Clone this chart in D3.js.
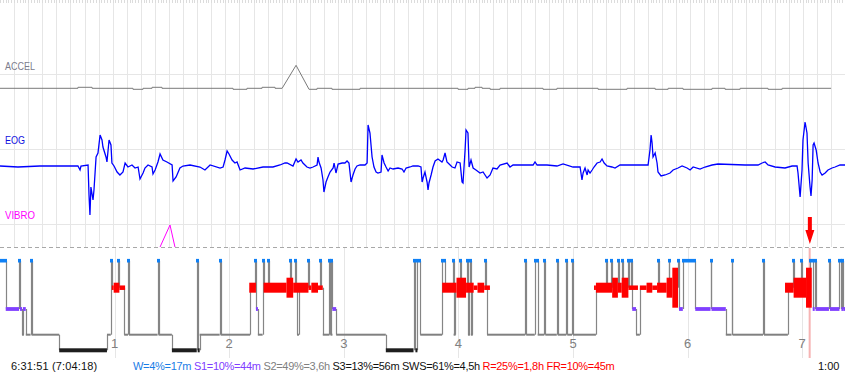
<!DOCTYPE html>
<html>
<head>
<meta charset="utf-8">
<script src="https://cdn.jsdelivr.net/npm/d3@7"></script>
<style>
  html, body { margin: 0; padding: 0; background: #fff; }
  svg { display: block; font-family: "Liberation Sans", Arial, sans-serif; }
</style>
</head>
<body>
<svg id="chart" width="845" height="372"></svg>
<script>
// ---- data (time in minutes from start of recording) ----
const totalMinutes = 442.4;
const hourTicks = [1, 2, 3, 4, 5, 6, 7];
const stageNames = ['W', 'R', 'S1', 'S2', 'S3'];
const traceLabels = ['ACCEL', 'EOG', 'VIBRO'];

// accelerometer: [minute, value, ramp?]  (steps unless ramp)
const accelData = [
  [0, 0], [40.8, 1], [48.2, 0], [69.6, -1], [74.9, 0], [79.6, 1], [84.8, 0],
  [122.0, -1], [129.3, 0], [137.2, 1], [144.0, 0], [147.7, 0],
  [155.0, 23, true], [161.8, -1, true], [166.0, 0], [173.8, -1], [188.5, 0],
  [239.8, -1], [245.0, 0], [248.7, 1], [252.4, 0], [256.6, -1], [261.8, 0],
  [284.3, -1], [291.6, 0], [313.1, -1], [328.3, 0], [343.0, -1], [349.8, 0],
  [357.6, -1], [372.8, 0], [379.6, -1], [387.5, 0], [402.1, -1], [409.5, 0],
  [435.1, 0]
];

// EOG amplitude: [minute, amplitude]
const eogData = [
  [0, -1], [9.4, -2], [20.9, -1], [40.8, -1], [41.9, -5], [42.4, -1], [46.1, 0],
  [46.6, -30], [47.1, -50], [47.6, -22], [48.7, -35], [49.2, -25], [50.3, 8],
  [51.3, 12], [52.4, 30], [53.4, 25], [53.9, 18], [55.5, 8], [56.0, 3], [57.1, 25],
  [58.1, 20], [58.6, 2], [59.7, -1], [61.3, -7], [62.8, -10], [64.4, -7], [65.5, 2],
  [67.0, -2], [69.1, 0], [70.7, -3], [72.3, -2], [73.3, -14], [74.9, -8], [75.9, -3],
  [77.5, 0], [79.6, -2], [80.1, -9], [81.2, -5], [82.7, 3], [83.8, 11], [85.3, 5],
  [87.4, 3], [90.1, 0], [90.6, -16], [92.2, -12], [94.2, -3], [95.8, -1], [99.5, 0],
  [104.7, -2], [107.3, -5], [110.0, 0], [115.2, -3], [116.8, -2], [117.8, 5],
  [118.9, 14], [119.9, 11], [121.5, 5], [123.0, 2], [124.1, 3], [125.7, -5],
  [128.3, -3], [132.5, -4], [137.7, -2], [142.9, -2], [146.6, 0], [149.2, 2],
  [150.3, 2], [153.4, -1], [155.0, 6], [156.0, 3], [157.6, 5], [158.6, 2],
  [160.7, -2], [162.3, -3], [163.9, -2], [166.0, 0], [166.5, 8], [167.0, 3],
  [168.1, -3], [169.1, -15], [169.6, -27], [170.7, -17], [171.7, -12], [172.8, -7],
  [174.4, -3], [174.9, 2], [175.9, -8], [177.0, 1], [179.1, 2], [180.6, 2],
  [181.7, 4], [182.7, 2], [183.8, -17], [184.8, -10], [185.9, -4], [186.9, -1],
  [188.5, 0], [191.1, 0], [192.2, 2], [192.7, 40], [193.7, 32], [194.8, 8],
  [195.8, -2], [196.9, -7], [197.9, -8], [199.5, -7], [200.0, 10], [201.1, 2],
  [202.1, -2], [203.2, -6], [204.2, -3], [205.8, -4], [208.4, -3], [210.5, -4],
  [211.5, -7], [212.6, -3], [214.7, -2], [216.2, -1], [218.9, -1], [220.4, -2],
  [221.0, -17], [221.5, -13], [222.5, -7], [223.6, -17], [224.1, -25], [224.6, -18],
  [225.7, -10], [226.7, -2], [227.8, 4], [229.3, 6], [231.4, 3], [232.0, 5],
  [233.0, 12], [234.0, 3], [234.6, 2], [236.7, -2], [238.2, -3], [239.3, 3],
  [240.9, 2], [241.9, -17], [242.4, -18], [243.5, 15], [244.0, 35], [245.0, 32],
  [245.6, -2], [246.6, 5], [247.7, -3], [249.2, -5], [251.3, -8], [252.9, -7],
  [255.0, -13], [256.6, -10], [258.1, -3], [260.2, -4], [261.8, 0], [265.5, 2],
  [267.0, -2], [268.6, 0], [273.8, 0], [279.1, 0], [280.1, 3], [281.2, 0],
  [286.4, 0], [291.6, -1], [294.8, 1], [300.0, -2], [303.7, -2], [304.7, -15],
  [305.3, -8], [306.3, -3], [307.4, -10], [307.9, -5], [308.9, -8], [310.0, -5],
  [311.0, -2], [312.6, 2], [314.2, 3], [315.2, 6], [316.3, 2], [317.8, -1],
  [320.4, -2], [322.0, -3], [324.6, 0], [330.9, 0], [339.3, 0], [340.3, 15],
  [340.9, 30], [341.4, 22], [341.9, 8], [343.0, 12], [344.0, 2], [344.5, -7],
  [346.1, -11], [348.2, -10], [350.8, -8], [352.4, -5], [355.0, -3], [357.1, -1],
  [359.7, -3], [361.3, -5], [362.9, -2], [366.5, -4], [369.1, -2], [372.8, 0],
  [375.9, 1], [390.1, 0], [396.9, 0], [399.0, 2], [400.6, 3], [402.1, 0],
  [405.8, -2], [411.0, -3], [414.7, -1], [417.3, -1], [417.8, -8], [418.9, -32],
  [419.9, -5], [420.4, 25], [421.5, 43], [422.5, 32], [423.1, 2], [424.1, -22],
  [424.6, -31], [425.2, -15], [425.7, 20], [426.2, 22], [427.3, 15], [428.3, 2],
  [429.4, -7], [430.4, -10], [432.0, -8], [433.5, -5], [435.6, -3], [437.2, -2],
  [439.8, 0], [442.4, 0]
];

// vibration stimulus: [minute, value]
const vibroData = [[83.8, 0], [89.0, 22], [91.6, 0]];

// hypnogram: [start minute, stage]
const hypnoSteps = [
  [0, 'W'], [3, 'S1'], [10, 'W'], [10.5, 'S1'], [11.5, 'S2'], [12, 'S1'], [13.5, 'S2'],
  [16, 'W'], [16.5, 'S2'], [31, 'S3'], [56, 'S2'], [58, 'W'], [58.5, 'R'], [62, 'W'],
  [62.5, 'R'], [65, 'S2'], [67, 'W'], [67.5, 'S2'], [82.5, 'W'], [83, 'S2'], [90, 'S3'],
  [103, 'W'], [103.5, 'S3'], [104.5, 'S2'], [115, 'W'], [115.5, 'S2'], [131, 'R'],
  [133.5, 'W'], [134, 'S1'], [135, 'S2'], [137.5, 'W'], [138, 'R'], [140.5, 'W'],
  [141, 'R'], [152, 'W'], [152.5, 'R'], [154.5, 'W'], [155, 'R'], [155.5, 'S2'],
  [156.5, 'R'], [161.5, 'W'], [162, 'R'], [167.5, 'W'], [168, 'R'], [169, 'S2'],
  [172.5, 'W'], [173, 'S2'], [173.5, 'W'], [174, 'S1'], [176, 'S2'], [202, 'S3'],
  [216.5, 'W'], [217.5, 'S3'], [218.5, 'W'], [220, 'S2'], [231.5, 'W'], [233, 'R'],
  [237, 'W'], [237.5, 'S2'], [238, 'R'], [241, 'W'], [241.5, 'R'], [244.5, 'W'],
  [245, 'S2'], [245.5, 'R'], [246, 'W'], [246.5, 'S2'], [247, 'R'], [254, 'W'],
  [254.5, 'R'], [255, 'S2'], [275, 'W'], [275.5, 'S2'], [280, 'W'], [281.5, 'S2'],
  [285, 'W'], [285.5, 'S2'], [291.5, 'W'], [292, 'S2'], [296.5, 'W'], [297, 'S2'],
  [299.5, 'W'], [300, 'S2'], [312, 'R'], [317.5, 'W'], [318, 'R'], [320, 'W'],
  [320.5, 'R'], [323.5, 'W'], [324, 'R'], [325.5, 'W'], [326, 'R'], [329, 'W'],
  [329.5, 'R'], [330.5, 'W'], [331, 'S1'], [333, 'S2'], [335, 'R'], [344.5, 'W'],
  [345, 'R'], [350, 'W'], [350.5, 'R'], [355, 'W'], [355.5, 'S1'], [357.5, 'W'],
  [364, 'S1'], [372, 'W'], [372.5, 'S1'], [380, 'S2'], [383, 'W'], [383.5, 'S2'],
  [399.5, 'W'], [400, 'S2'], [412.5, 'R'], [415, 'W'], [415.5, 'R'], [419.5, 'W'],
  [420, 'R'], [424, 'W'], [425.5, 'S1'], [426.5, 'W'], [427, 'S1'], [434, 'W'],
  [434.5, 'S1'], [439.5, 'W'], [440.5, 'S1'], [441, 'W'], [441.5, 'S1']
];

// REM density blocks: [start, end, level 1..4]
const remBlocks = [
  [58.5, 59.5, 1], [59.5, 62.5, 2], [62.5, 65.5, 1],
  [130.5, 134, 2],
  [138, 150, 2], [150, 153.5, 3], [153.5, 161.5, 2], [161.5, 163, 1], [163, 166.5, 2], [166.5, 169, 1],
  [231.5, 239, 2], [239, 244, 3], [244, 248, 2], [248, 250, 1], [250, 253.5, 2], [253.5, 256.5, 1],
  [311, 312, 1], [312, 320.5, 2], [320.5, 323.5, 3], [323.5, 325.5, 2], [325.5, 329, 3], [329, 334, 1],
  [335, 338.5, 1], [338.5, 341.5, 2], [341.5, 344, 1], [344, 349, 2], [349, 352, 3], [352, 355, 4],
  [411, 415.5, 2], [415.5, 422, 3], [422, 425, 4]
];

const markerMinute = 424;
const recordTimes = '6:31:51 (7:04:18)';
const summaryTexts = ['W=4%=17m', 'S1=10%=44m', 'S2=49%=3,6h', 'S3=13%=56m SWS=61%=4,5h', 'R=25%=1,8h FR=10%=45m'];
const summaryStages = ['W', 'S1', 'S2', 'S3', 'R'];
const scaleLabel = '1:00';

// ---- layout / style ----
const width = 845;
const height = 372;
const gridColor = '#e6e6e6';
const traceBottom = 247;
const stageColor = { W: '#0f80f5', R: '#ff0000', S1: '#8040ff', S2: '#808080', S3: '#1e1e1e' };
const textColor = { W: '#1a7de6', S1: '#7f40ff', S2: '#808080', S3: '#111', R: '#ff0000' };
const labelColor = ['#7c7c8c', '#1010e0', '#ff00ff'];
const labelY = [69.5, 144, 219];
const labelW = [30, 20, 30];
const remHeight = [0, 4.5, 10, 20, 40];
const statusY = 370;

const svg = d3.select('#chart');

const x = d3.scaleLinear().domain([0, totalMinutes]).range([0, width]);
const yAccel = d3.scaleLinear().domain([-10, 30]).range([98.3, 58.3]);
const yEog = d3.scaleLinear().domain([-60, 60]).range([225, 105]);
const yVibro = d3.scaleLinear().domain([0, 22]).range([traceBottom, 225]);
const yStage = d3.scaleOrdinal().domain(stageNames).range([260.7, 287.7, 309, 334.7, 350.3]);

// background grid of the trace panel
const gridStep = width / 60;
const grid = svg.append('g').attr('class', 'grid');
grid.selectAll('line.v')
  .data(d3.range(1, 60))
  .join('line')
  .attr('class', 'v')
  .attr('x1', d => Math.round(d * gridStep) + 0.5)
  .attr('x2', d => Math.round(d * gridStep) + 0.5)
  .attr('y1', 0)
  .attr('y2', traceBottom)
  .attr('stroke', gridColor);

grid.selectAll('line.m')
  .data(d3.range(0, 301))
  .join('line')
  .attr('class', 'm')
  .attr('x1', d => Math.round(d * width / 300) + 0.5)
  .attr('x2', d => Math.round(d * width / 300) + 0.5)
  .attr('y1', 0)
  .attr('y2', 3)
  .attr('stroke', '#dcdcdc');

grid.selectAll('line.h')
  .data([74.5, 149.5, 224.5])
  .join('line')
  .attr('class', 'h')
  .attr('x1', 0)
  .attr('x2', width)
  .attr('y1', d => d)
  .attr('y2', d => d)
  .attr('stroke', gridColor);

// hour lines in the hypnogram
grid.selectAll('line.hour')
  .data(hourTicks)
  .join('line')
  .attr('class', 'hour')
  .attr('x1', d => Math.round(x(d * 60)) + 0.5)
  .attr('x2', d => Math.round(x(d * 60)) + 0.5)
  .attr('y1', traceBottom)
  .attr('y2', 358)
  .attr('stroke', gridColor);

svg.append('line')
  .attr('x1', 0).attr('x2', width)
  .attr('y1', traceBottom + 0.5).attr('y2', traceBottom + 0.5)
  .attr('stroke', '#a8a8a8')
  .attr('stroke-dasharray', '4,3');

// trace labels
svg.selectAll('text.label')
  .data(traceLabels)
  .join('text')
  .attr('class', 'label')
  .attr('x', 5)
  .attr('y', (d, i) => labelY[i])
  .attr('textLength', (d, i) => labelW[i])
  .attr('lengthAdjust', 'spacingAndGlyphs')
  .style('font-size', '11px')
  .style('fill', (d, i) => labelColor[i])
  .text(d => d);

// ACCEL: steps with one ramp
const accelPts = [];
accelData.forEach((d, i) => {
  if (i > 0 && !d[2]) accelPts.push([d[0], accelData[i - 1][1]]);
  accelPts.push([d[0], d[1]]);
});
svg.append('path')
  .datum(accelPts)
  .attr('fill', 'none')
  .attr('stroke', '#7a7a7a')
  .attr('stroke-width', 1)
  .attr('d', d3.line().x(d => x(d[0])).y(d => yAccel(d[1])));

// EOG
svg.append('path')
  .datum(eogData)
  .attr('fill', 'none')
  .attr('stroke', '#0000ff')
  .attr('stroke-width', 1.3)
  .attr('d', d3.line().x(d => x(d[0])).y(d => yEog(d[1])));

// VIBRO
svg.append('path')
  .datum(vibroData)
  .attr('fill', 'none')
  .attr('stroke', '#ff00ff')
  .attr('stroke-width', 1)
  .attr('d', d3.line().x(d => x(d[0])).y(d => yVibro(d[1])));

// cursor line
const mx = x(markerMinute);
svg.append('rect')
  .attr('x', mx - 1.2).attr('y', traceBottom + 1)
  .attr('width', 2).attr('height', 110)
  .attr('fill', '#f6b4b4');

// hypnogram
const segs = hypnoSteps.map((d, i) => ({
  start: d[0],
  end: i + 1 < hypnoSteps.length ? hypnoSteps[i + 1][0] : totalMinutes,
  stage: d[1]
}));
const hyp = svg.append('g').attr('class', 'hypnogram');

hyp.selectAll('line.tr')
  .data(segs.slice(1).map((s, i) => ({ t: s.start, from: segs[i].stage, to: s.stage })))
  .join('line')
  .attr('class', 'tr')
  .attr('x1', d => Math.round(x(d.t)) + 0.5)
  .attr('x2', d => Math.round(x(d.t)) + 0.5)
  .attr('y1', d => yStage(d.from))
  .attr('y2', d => yStage(d.to))
  .attr('stroke', '#858585')
  .attr('stroke-width', 1.2);

const barH = { S1: 3.8, S2: 2, S3: 4 };
hyp.selectAll('rect.bar')
  .data(segs.filter(s => barH[s.stage]))
  .join('rect')
  .attr('class', 'bar')
  .attr('x', d => x(d.start))
  .attr('width', d => Math.max(2, x(d.end) - x(d.start)))
  .attr('y', d => yStage(d.stage) - barH[d.stage] / 2)
  .attr('height', d => barH[d.stage])
  .attr('fill', d => stageColor[d.stage]);

hyp.selectAll('rect.rem')
  .data(remBlocks)
  .join('rect')
  .attr('class', 'rem')
  .attr('x', d => x(d[0]))
  .attr('width', d => x(d[1]) - x(d[0]))
  .attr('y', d => yStage('R') - remHeight[d[2]] / 2)
  .attr('height', d => remHeight[d[2]])
  .attr('fill', stageColor.R);

hyp.selectAll('rect.wake')
  .data(segs.filter(s => s.stage === 'W'))
  .join('rect')
  .attr('class', 'wake')
  .attr('x', d => Math.round(x(d.start)) - 1)
  .attr('width', d => Math.max(3, Math.round(x(d.end)) - Math.round(x(d.start)) + 2))
  .attr('y', yStage('W') - 1.8)
  .attr('height', 3.6)
  .attr('fill', stageColor.W);

// event arrow
svg.append('path')
  .attr('d', `M${mx - 2},217 H${mx + 2} V230 H${mx + 4.5} L${mx},244 L${mx - 4.5},230 H${mx - 2} Z`)
  .attr('fill', '#ff0000');

// hour labels
svg.selectAll('text.hour')
  .data(hourTicks)
  .join('text')
  .attr('class', 'hour')
  .attr('x', d => x(d * 60))
  .attr('y', 348)
  .attr('text-anchor', 'middle')
  .style('font-size', '13px')
  .style('fill', '#808080')
  .text(d => d);

// status line
svg.append('text')
  .attr('x', 11).attr('y', statusY)
  .style('font-size', '11px').style('letter-spacing', '0.15px').style('fill', '#111')
  .text(recordTimes);

const summary = svg.append('text')
  .attr('x', 133).attr('y', statusY)
  .style('font-size', '11px')
  .style('letter-spacing', '-0.3px');
summary.selectAll('tspan')
  .data(summaryTexts)
  .join('tspan')
  .style('fill', (d, i) => textColor[summaryStages[i]])
  .text((d, i) => (i > 0 ? ' ' : '') + d);

svg.append('text')
  .attr('x', 818).attr('y', statusY)
  .style('font-size', '11px').style('fill', '#111')
  .text(scaleLabel);
</script>
</body>
</html>
